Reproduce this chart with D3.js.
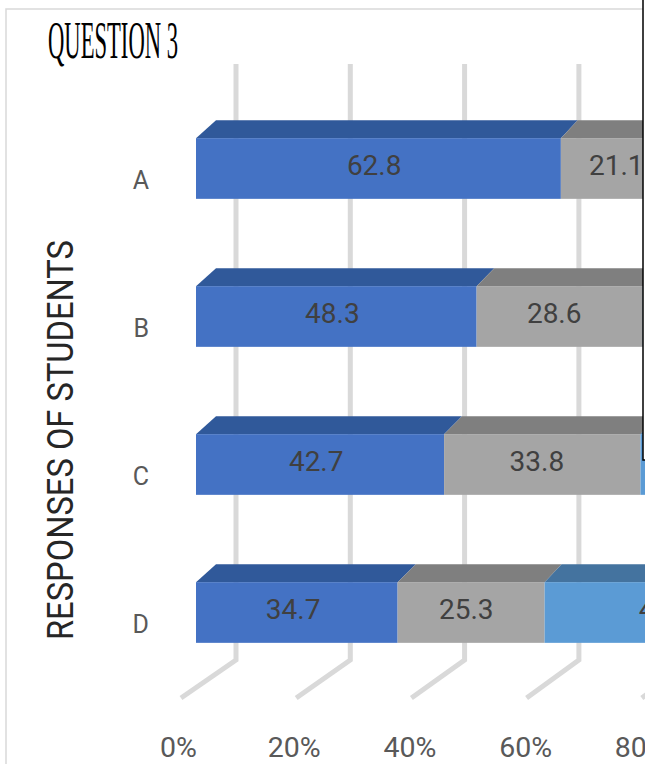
<!DOCTYPE html>
<html>
<head>
<meta charset="utf-8">
<script src="https://cdn.jsdelivr.net/npm/d3@7"></script>
<style>
  html, body { margin: 0; padding: 0; background: #ffffff; }
  svg { display: block; }
</style>
</head>
<body>
<svg id="chart" width="645" height="764"></svg>
<script>
// ---- data -------------------------------------------------------------
const categories = ["A", "B", "C", "D"];
const seriesKeys = ["s1", "s2", "s3"];
const series1 = [62.8, 48.3, 42.7, 34.7];
const series2 = [21.1, 28.6, 33.8, 25.3];
const series3 = [16.1, 23.1, 23.5, 40];
const tickValues = [0, 20, 40, 60, 80, 100];
const tickLabels = ["0%", "20%", "40%", "60%", "80%", "100%"];
const chartTitle = "QUESTION 3";
const axisTitle = "RESPONSES OF STUDENTS";

// ---- styling ----------------------------------------------------------
const frontColors = { s1: "#4472c4", s2: "#a5a5a5", s3: "#5b9bd5" };
const topColors   = { s1: "#30599a", s2: "#7f7f7f", s3: "#44739f" };
const sideColors  = { s1: "#2a4d86", s2: "#6f6f6f", s3: "#3d6891" };

const rows = categories.map((c, i) => ({
  cat: c, s1: series1[i], s2: series2[i], s3: series3[i]
}));
const stacked = d3.stack().keys(seriesKeys)(rows);

const svg = d3.select("#chart");

// ---- scales (one per depth plane of the 3-D box) ----------------------
const xFront = d3.scaleLinear().domain([0, 100]).range([196, 777]);   // bar front faces
const xRear  = d3.scaleLinear().domain([0, 100]).range([216, 792]);   // bar back edges
const xWall  = d3.scaleLinear().domain([0, 100]).range([236, 807.5]); // back wall
const xFloor = d3.scaleLinear().domain([0, 100]).range([181, 757]);   // front floor edge
const xText  = d3.scaleLinear().domain([0, 100]).range([193, 770]);   // data labels
const xTick  = d3.scaleLinear().domain([0, 100]).range([178, 756.5]); // axis labels

const y = d3.scaleBand().domain(categories)
  .range([94.5, 686.5]).paddingInner(0.59).paddingOuter(0.295);

const depthY = 18;      // vertical rise of a bar's top face
const wallTop = 64, wallBottom = 660, floorFront = 698;

// ---- outer frame ------------------------------------------------------
svg.append("path")
  .attr("d", "M6,764 V9 H643")
  .attr("fill", "none").attr("stroke", "#d9d9d9").attr("stroke-width", 1.5);

// ---- gridlines on wall and floor --------------------------------------
svg.append("g").selectAll("path").data(tickValues).join("path")
  .attr("d", v => `M${xWall(v)},${wallTop} V${wallBottom} L${xFloor(v)},${floorFront}`)
  .attr("fill", "none")
  .attr("stroke", "#d9d9d9")
  .attr("stroke-width", 5);

// ---- bars -------------------------------------------------------------
const barG = svg.append("g");
stacked.forEach(layer => {
  const key = layer.key;
  layer.forEach(seg => {
    const cat = seg.data.cat;
    const y0 = y(cat), y1 = y(cat) + y.bandwidth();
    const a = seg[0], b = seg[1];
    // top face
    barG.append("path")
      .attr("d", `M${xFront(a)},${y0} L${xRear(a)},${y0 - depthY} L${xRear(b)},${y0 - depthY} L${xFront(b)},${y0} Z`)
      .attr("fill", topColors[key]);
    // front face
    barG.append("rect")
      .attr("x", xFront(a)).attr("y", y0)
      .attr("width", xFront(b) - xFront(a)).attr("height", y1 - y0)
      .attr("fill", frontColors[key]);
    // right end face of the last segment
    if (key === seriesKeys[seriesKeys.length - 1]) {
      barG.append("path")
        .attr("d", `M${xFront(b)},${y0} L${xRear(b)},${y0 - depthY} L${xRear(b)},${y1 - depthY} L${xFront(b)},${y1} Z`)
        .attr("fill", sideColors[key]);
    }
  });
});

// ---- data labels ------------------------------------------------------
const labelG = svg.append("g")
  .attr("font-family", "Roboto, 'Noto Sans', sans-serif")
  .attr("font-size", 28)
  .attr("fill", "#404040")
  .attr("text-anchor", "middle");
stacked.forEach(layer => {
  layer.forEach(seg => {
    labelG.append("text")
      .attr("x", xText((seg[0] + seg[1]) / 2))
      .attr("y", y(seg.data.cat) + y.bandwidth() / 2 + 6.5)
      .text(String(seg.data[layer.key]));
  });
});

// ---- category axis ----------------------------------------------------
const catAxis = svg.append("g")
  .attr("transform", "translate(149,20)")
  .call(d3.axisLeft(y).tickSize(0).tickPadding(0));
catAxis.select(".domain").remove();
catAxis.selectAll("text")
  .attr("font-family", "Roboto, 'Noto Sans', sans-serif")
  .attr("font-size", 25)
  .attr("fill", "#595959")
  .attr("text-anchor", "end")
  .attr("x", 0)
  .attr("y", 0)
  .attr("dy", 0);

// ---- value axis -------------------------------------------------------
const valAxis = svg.append("g")
  .attr("transform", "translate(0,757)")
  .call(d3.axisBottom(xTick).tickValues(tickValues)
    .tickFormat((d, i) => tickLabels[i]).tickSize(0).tickPadding(0));
valAxis.select(".domain").remove();
valAxis.selectAll("text")
  .attr("font-family", "Roboto, 'Noto Sans', sans-serif")
  .attr("font-size", 28.5)
  .attr("fill", "#595959")
  .attr("dy", 0)
  .attr("y", 0);

// ---- titles -----------------------------------------------------------
svg.append("text")
  .attr("x", 48).attr("y", 58)
  .attr("font-family", "'Liberation Serif', 'Times New Roman', serif")
  .attr("font-size", 53)
  .attr("textLength", 130)
  .attr("lengthAdjust", "spacingAndGlyphs")
  .attr("fill", "#000000")
  .text(chartTitle);

svg.append("text")
  .attr("transform", "translate(73,440) rotate(-90)")
  .attr("text-anchor", "middle")
  .attr("font-family", "Roboto, 'Noto Sans', sans-serif")
  .attr("font-size", 36)
  .attr("textLength", 400)
  .attr("lengthAdjust", "spacingAndGlyphs")
  .attr("fill", "#262626")
  .text(axisTitle);

// ---- overlapping panel at the right edge ------------------------------
svg.append("rect")
  .attr("x", 643).attr("y", -2)
  .attr("width", 20).attr("height", 462)
  .attr("fill", "#ffffff")
  .attr("stroke", "#000000").attr("stroke-width", 1.5);
</script>
</body>
</html>
